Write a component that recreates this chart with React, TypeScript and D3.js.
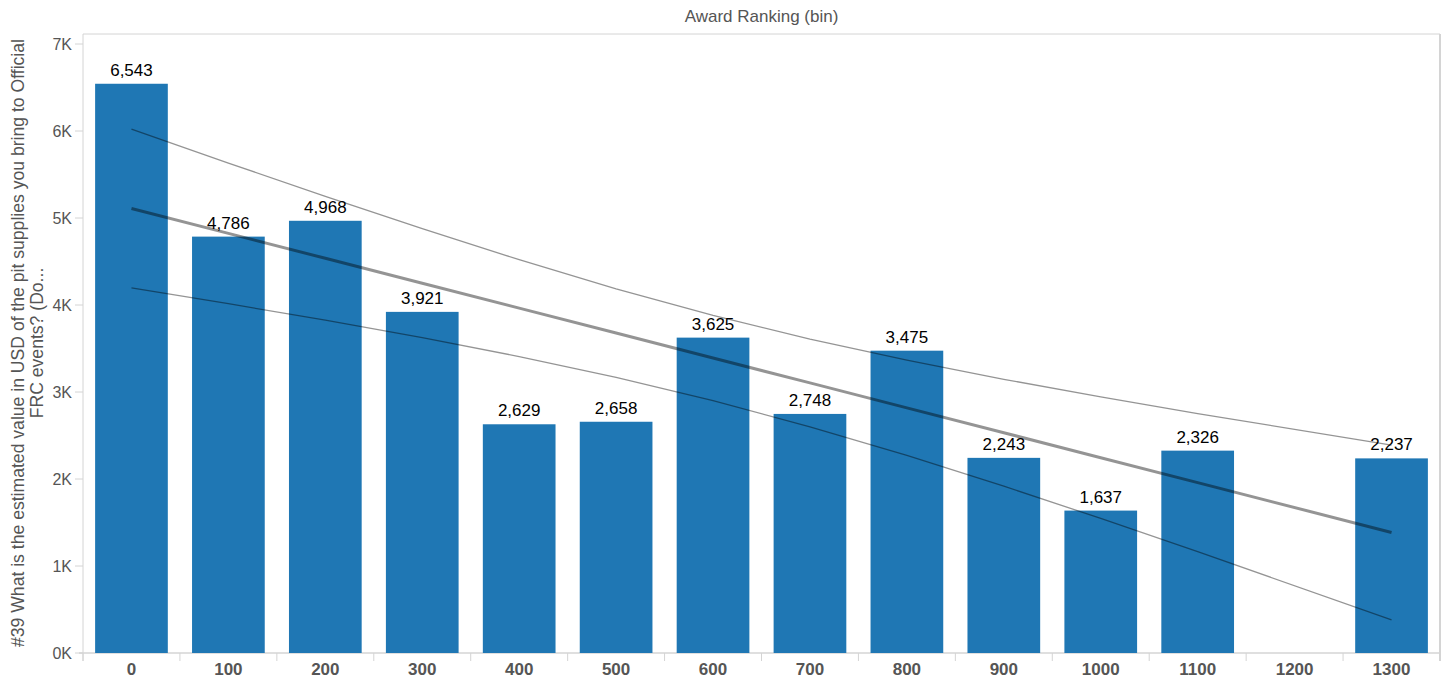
import * as d3 from "d3";

// bins of "Award Ranking"; 1200 has no responses
const bins = ["0", "100", "200", "300", "400", "500", "600", "700", "800", "900", "1000", "1100", "1200", "1300"];
const binValues = [0, 100, 200, 300, 400, 500, 600, 700, 800, 900, 1000, 1100, 1200, 1300];
const avgPitValue: (number | null)[] = [6543, 4786, 4968, 3921, 2629, 2658, 3625, 2748, 3475, 2243, 1637, 2326, null, 2237];
const yTicks = [0, 1000, 2000, 3000, 4000, 5000, 6000, 7000];

const W = 1443;
const H = 683;
const margin = { top: 34, right: 3, bottom: 30, left: 83 };
const gray = "#555";
const grid = "#d4d4d4";
const font = "'Liberation Sans', Arial, sans-serif";

export default function App() {
  const x = d3
    .scaleBand()
    .domain(bins)
    .range([margin.left, W - margin.right])
    .paddingInner(0.25)
    .paddingOuter(0.125);
  const y = d3
    .scaleLinear()
    .domain([0, 7000])
    .range([H - margin.bottom, 44]);

  // points that exist (for the linear trend)
  const pts = bins
    .map((b, i) => ({ b, xv: binValues[i], v: avgPitValue[i] }))
    .filter((d) => d.v != null) as { b: string; xv: number; v: number }[];

  // least squares fit + 95% confidence band of the mean, like Tableau draws it
  const n = pts.length;
  const mx = d3.mean(pts, (d) => d.xv)!;
  const my = d3.mean(pts, (d) => d.v)!;
  const sxx = d3.sum(pts, (d) => (d.xv - mx) ** 2);
  const sxy = d3.sum(pts, (d) => (d.xv - mx) * (d.v - my));
  const slope = sxy / sxx;
  const icpt = my - slope * mx;
  const sse = d3.sum(pts, (d) => (d.v - (icpt + slope * d.xv)) ** 2);
  const s = Math.sqrt(sse / (n - 2));
  const t = 2.201; // t(0.975, 11)
  const fit = pts.map((d) => {
    const yh = icpt + slope * d.xv;
    const h = t * s * Math.sqrt(1 / n + (d.xv - mx) ** 2 / sxx);
    return { b: d.b, yh, lo: yh - h, hi: yh + h };
  });
  const cx = (b: string) => x(b)! + x.bandwidth() / 2;
  const line = (acc: (d: (typeof fit)[number]) => number) =>
    d3
      .line<(typeof fit)[number]>()
      .x((d) => cx(d.b))
      .y((d) => y(acc(d)))(fit)!;

  const fmt = d3.format(",");
  const y0 = y(0);
  const step = x.step();

  return (
    <svg width={W} height={H} style={{ position: "absolute", left: 0, top: 0, fontFamily: font }}>
      <text x={(margin.left + W - margin.right) / 2} y={22} textAnchor="middle" fontSize={17} fill={gray}>
        Award Ranking (bin)
      </text>

      {/* frame */}
      <line x1={margin.left} x2={W - margin.right} y1={margin.top} y2={margin.top} stroke={grid} />
      <line x1={margin.left} x2={margin.left} y1={margin.top} y2={y0 + 8} stroke={grid} />
      <line x1={W - margin.right} x2={W - margin.right} y1={margin.top} y2={y0 + 8} stroke={grid} strokeWidth={2} />
      <line x1={margin.left - 4} x2={W - margin.right} y1={y0} y2={y0} stroke={grid} strokeWidth={1.5} />

      {/* y axis */}
      {yTicks.map((v) => (
        <g key={v}>
          <line x1={margin.left - 8} x2={margin.left} y1={y(v)} y2={y(v)} stroke={grid} />
          <text x={margin.left - 11} y={y(v)} dy="0.35em" textAnchor="end" fontSize={16} fill={gray}>
            {v / 1000}K
          </text>
        </g>
      ))}
      <text transform={`translate(24,343) rotate(-90)`} textAnchor="middle" fontSize={17.6} fill={gray}>
        #39 What is the estimated value in USD of the pit supplies you bring to Official
      </text>
      <text transform={`translate(43,343) rotate(-90)`} textAnchor="middle" fontSize={17.6} fill={gray}>
        FRC events? (Do...
      </text>

      {/* x axis */}
      {bins.map((b) => (
        <g key={b}>
          <line
            x1={x(b)! - (step - x.bandwidth()) / 2}
            x2={x(b)! - (step - x.bandwidth()) / 2}
            y1={y0}
            y2={y0 + 8}
            stroke={grid}
          />
          <text x={cx(b)} y={y0 + 22} textAnchor="middle" fontSize={17} fontWeight="bold" fill={gray}>
            {b}
          </text>
        </g>
      ))}

      {/* bars */}
      {bins.map((b, i) => {
        const v = avgPitValue[i];
        if (v == null) return null;
        return (
          <g key={b}>
            <rect x={x(b)} y={y(v)} width={x.bandwidth()} height={y0 - y(v)} fill="#1f77b4" />
            <text x={cx(b)} y={y(v) - 8} textAnchor="middle" fontSize={17} fill="#000">
              {fmt(v)}
            </text>
          </g>
        );
      })}

      {/* trend line and confidence band */}
      <path d={line((d) => d.hi)} fill="none" stroke="#000" strokeOpacity={0.42} strokeWidth={1.3} />
      <path d={line((d) => d.lo)} fill="none" stroke="#000" strokeOpacity={0.42} strokeWidth={1.3} />
      <path d={line((d) => d.yh)} fill="none" stroke="#000" strokeOpacity={0.42} strokeWidth={3} />
    </svg>
  );
}
